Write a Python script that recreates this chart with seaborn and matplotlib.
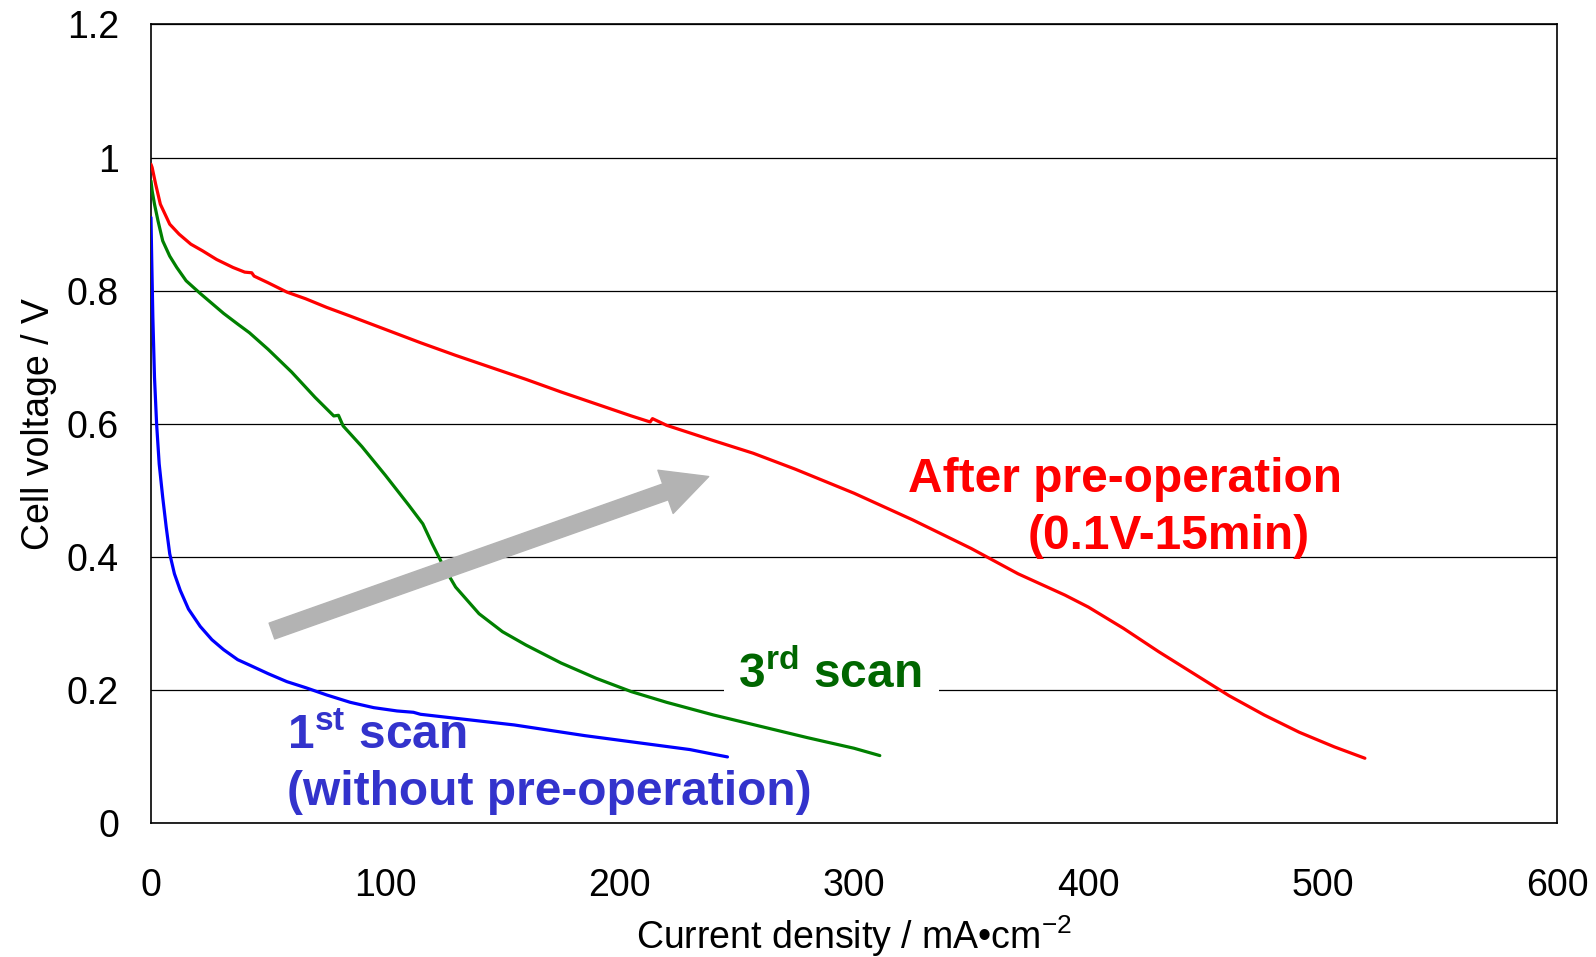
import matplotlib
matplotlib.use("Agg")
import matplotlib.pyplot as plt
import seaborn as sns
import pandas as pd

# Polarization curves: current density (mA/cm2) vs cell voltage (V)
after_i = [0, 0.5, 2, 4, 8, 12, 17, 22, 28, 35, 40, 43, 44, 50, 58, 66, 75, 85, 100, 115,
           130, 145, 160, 175, 190, 205, 213, 214, 220, 240, 257, 275, 300, 325, 350, 370,
           390, 400, 415, 430, 445, 460, 475, 490, 505, 518]
after_v = [0.99, 0.985, 0.96, 0.93, 0.90, 0.885, 0.87, 0.86, 0.847, 0.835, 0.828, 0.827, 0.822,
           0.812, 0.798, 0.788, 0.775, 0.762, 0.742, 0.722, 0.703, 0.685, 0.667, 0.648, 0.630,
           0.612, 0.603, 0.608, 0.598, 0.575, 0.556, 0.532, 0.496, 0.456, 0.413, 0.375, 0.343,
           0.325, 0.293, 0.258, 0.225, 0.192, 0.163, 0.137, 0.115, 0.098]

scan3_i = [0, 0.5, 1.5, 3, 5, 8, 11, 15, 21, 26, 31, 37, 42, 50, 60, 70, 78, 80, 82, 90, 100,
           110, 116, 120, 125, 130, 140, 150, 160, 175, 190, 205, 220, 240, 260, 280, 300, 311]
scan3_v = [0.965, 0.95, 0.93, 0.905, 0.875, 0.852, 0.835, 0.815, 0.796, 0.781, 0.766, 0.750,
           0.737, 0.712, 0.678, 0.640, 0.612, 0.613, 0.597, 0.566, 0.523, 0.478, 0.450, 0.420,
           0.385, 0.355, 0.315, 0.288, 0.268, 0.241, 0.218, 0.198, 0.182, 0.163, 0.146, 0.129,
           0.113, 0.102]

scan1_i = [0, 0.3, 0.8, 1.5, 2.4, 3.5, 5, 6.5, 8, 10, 12.5, 16, 21, 26, 31, 37, 42, 50, 58, 66,
           75, 85, 95, 105, 112, 115, 125, 140, 155, 170, 185, 200, 215, 230, 240, 246]
scan1_v = [0.91, 0.85, 0.76, 0.67, 0.60, 0.54, 0.49, 0.445, 0.405, 0.375, 0.350, 0.322, 0.296,
           0.276, 0.261, 0.246, 0.238, 0.225, 0.213, 0.204, 0.193, 0.182, 0.174, 0.169, 0.167,
           0.164, 0.160, 0.154, 0.148, 0.140, 0.132, 0.125, 0.118, 0.111, 0.104, 0.100]

x_ticks = [0, 100, 200, 300, 400, 500, 600]
y_ticks = [0, 0.2, 0.4, 0.6, 0.8, 1.0, 1.2]
y_tick_labels = ["0", "0.2", "0.4", "0.6", "0.8", "1", "1.2"]

sns.set_style("white")
plt.rcParams["font.family"] = ["Liberation Sans", "DejaVu Sans"]
plt.rcParams["mathtext.fontset"] = "custom"
plt.rcParams["mathtext.rm"] = "Liberation Sans"
plt.rcParams["mathtext.bf"] = "Liberation Sans:bold"
plt.rcParams["text.color"] = "black"
plt.rcParams["axes.labelcolor"] = "black"

fig = plt.figure(figsize=(15.96, 9.57), dpi=100)
ax = fig.add_axes([0.0946, 0.1395, 0.881, 0.835])

frames = [
    (pd.DataFrame({"i": after_i, "v": after_v}), "#ff0000"),
    (pd.DataFrame({"i": scan3_i, "v": scan3_v}), "#008000"),
    (pd.DataFrame({"i": scan1_i, "v": scan1_v}), "#0000ff"),
]
for df, col in frames:
    sns.lineplot(data=df, x="i", y="v", ax=ax, color=col, linewidth=2.3,
                 sort=False, estimator=None, zorder=3)

ax.set_xlim(0, 600)
ax.set_ylim(0, 1.2)
ax.set_xticks(x_ticks)
ax.set_yticks(y_ticks)
ax.set_yticklabels(y_tick_labels)
ax.tick_params(axis="both", direction="out", length=7, width=1, colors="black",
               labelsize=27)
ax.tick_params(axis="x", pad=25)
ax.tick_params(axis="y", pad=16)
ax.yaxis.grid(True, color="black", linewidth=0.9)
ax.xaxis.grid(False)
ax.set_axisbelow(True)
for s in ax.spines.values():
    s.set_color("black")
    s.set_linewidth(1.2)

ax.set_xlabel(r"Current density / mA•cm$^{-2}$", fontsize=27, labelpad=7)
ax.set_ylabel("Cell voltage / V", fontsize=27, labelpad=7)

# trend arrow
ax.annotate("", xy=(238, 0.521), xytext=(51.6, 0.289),
            arrowprops=dict(arrowstyle="simple,head_length=1.5,head_width=1.5,tail_width=0.55",
                            color="#b3b3b3", mutation_scale=22, shrinkA=0, shrinkB=0),
            zorder=4)

ax.text(323, 0.516, "After pre-operation", color="#ff0000", fontsize=34.5,
        fontweight="bold", ha="left", va="center", zorder=5)
ax.text(374, 0.431, "(0.1V-15min)", color="#ff0000", fontsize=34.5,
        fontweight="bold", ha="left", va="center", zorder=5)
# label box sits over the grid but under the curves
ax.text(250.5, 0.2235, r"3$^{\mathbf{rd}}$ scan ", color="#006600", fontsize=34.5,
        fontweight="bold", ha="left", va="center", zorder=2.5,
        bbox=dict(facecolor="white", edgecolor="none", boxstyle="square,pad=0.3"))
ax.text(58, 0.131, r"1$^{\mathbf{st}}$ scan", color="#3333cc", fontsize=34.5,
        fontweight="bold", ha="left", va="center", zorder=5)
ax.text(58, 0.047, "(without pre-operation)", color="#3333cc", fontsize=34.5,
        fontweight="bold", ha="left", va="center", zorder=5)

fig.savefig("out.png", dpi=100, facecolor="white")
